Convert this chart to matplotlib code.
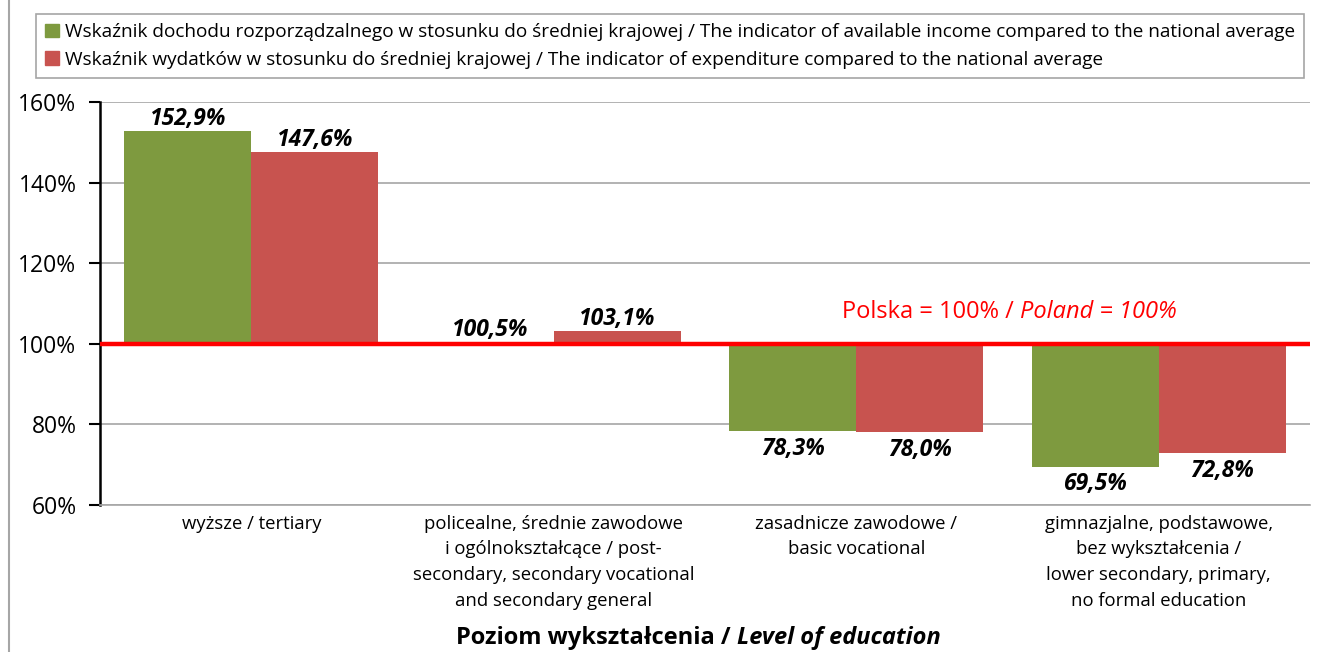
import numpy as np
import matplotlib.pyplot as plt
from matplotlib.patches import Patch

# *****************************************************************************

CATEGORIES = ['wyższe / tertiary',
              'policealne, średnie zawodowe\ni ogólnokształcące / post-\n'
              'secondary, secondary vocational\nand secondary general',
              'zasadnicze zawodowe /\nbasic vocational',
              'gimnazjalne, podstawowe,\nbez wykształcenia /\n'
              'lower secondary, primary,\nno formal education']
INCOME = [152.9, 100.5, 78.3, 69.5]
EXPEND = [147.6, 103.1, 78.0, 72.8]
SERIES = ['Wskaźnik dochodu rozporządzalnego w stosunku do średniej krajowej / '
          'The indicator of available income compared to the national average',
          'Wskaźnik wydatków w stosunku do średniej krajowej / '
          'The indicator of expenditure compared to the national average']
YTICKS = [60, 80, 100, 120, 140, 160]
BASE = 100

GREEN = '#7E9A3F'
RED = '#C8534F'
FONT = ['Open Sans', 'DejaVu Sans']

# *****************************************************************************


def make_fig():

    plt.rcParams['font.family'] = FONT

    fig01 = plt.figure(figsize=(13.18, 6.52), dpi=100)
    axs01 = fig01.add_axes([0.0759, 0.2255, 0.918, 0.618])

    xpos = np.arange(len(CATEGORIES))
    wid = 0.42

    inc = np.array(INCOME) - BASE
    exp_ = np.array(EXPEND) - BASE
    axs01.bar(xpos - wid/2, inc, wid, bottom=BASE, color=GREEN, zorder=2)
    axs01.bar(xpos + wid/2, exp_, wid, bottom=BASE, color=RED, zorder=2)

    for xs, vals in ((xpos - wid/2, INCOME), (xpos + wid/2, EXPEND)):
        for x, v in zip(xs, vals):
            lbl = '{:.1f}%'.format(v).replace('.', ',')
            if v >= BASE:
                axs01.annotate(lbl, (x, v), xytext=(0, 0), textcoords='offset points',
                               ha='center', va='bottom', fontsize=16.5,
                               fontweight='bold', fontstyle='italic')
            else:
                axs01.annotate(lbl, (x, v), xytext=(0, -4), textcoords='offset points',
                               ha='center', va='top', fontsize=16.5,
                               fontweight='bold', fontstyle='italic')

    axs01.axhline(BASE, color='#FF0000', lw=3.2, zorder=3)
    axs01.text(2.54, 108, 'Polska = 100% / ', color='#FF0000', fontsize=17,
               ha='right', va='center')
    axs01.text(2.54, 108, 'Poland = 100%', color='#FF0000', fontsize=17,
               ha='left', va='center', fontstyle='italic')

    axs01.set_xlim(-0.5, len(CATEGORIES) - 0.5)
    axs01.set_ylim(YTICKS[0], YTICKS[-1])
    axs01.set_yticks(YTICKS)
    axs01.set_yticklabels(['{:d}%'.format(t) for t in YTICKS], fontsize=16.5)
    axs01.set_xticks(xpos)
    axs01.set_xticklabels(CATEGORIES, fontsize=13.3, linespacing=1.55, va='top')
    axs01.tick_params(axis='x', length=0, pad=7)
    axs01.tick_params(axis='y', length=8, width=1.5, direction='out', pad=9)

    axs01.grid(axis='y', color='#A6A6A6', lw=1.2, zorder=0)
    axs01.spines['top'].set_visible(False)
    axs01.spines['right'].set_visible(False)
    axs01.spines['left'].set_linewidth(1.8)
    axs01.spines['bottom'].set_color('#A6A6A6')
    axs01.spines['bottom'].set_linewidth(1.2)

    fig01.text(0.559, 0.003, 'Poziom wykształcenia / ', fontsize=17,
               fontweight='bold', ha='right', va='bottom')
    fig01.text(0.559, 0.003, 'Level of education', fontsize=17,
               fontweight='bold', fontstyle='italic', ha='left', va='bottom')

    handles = [Patch(color=GREEN), Patch(color=RED)]
    leg = fig01.legend(handles, SERIES, loc='upper left',
                       bbox_to_anchor=(0.0273, 0.979), fontsize=13.7,
                       handlelength=0.7, handleheight=0.7, handletextpad=0.3,
                       labelspacing=0.5, borderpad=0.5, borderaxespad=0,
                       fancybox=False, edgecolor='#A6A6A6', framealpha=1)
    leg.get_frame().set_linewidth(1.2)

    # outer chart border on the left
    fig01.add_artist(plt.Line2D([0.0065, 0.0065], [0, 1], color='#A6A6A6', lw=1.5))

    plt.savefig('out.png', dpi=100)
    plt.close()

    return None

# *****************************************************************************


if (__name__ == "__main__"):

    make_fig()

# *****************************************************************************
